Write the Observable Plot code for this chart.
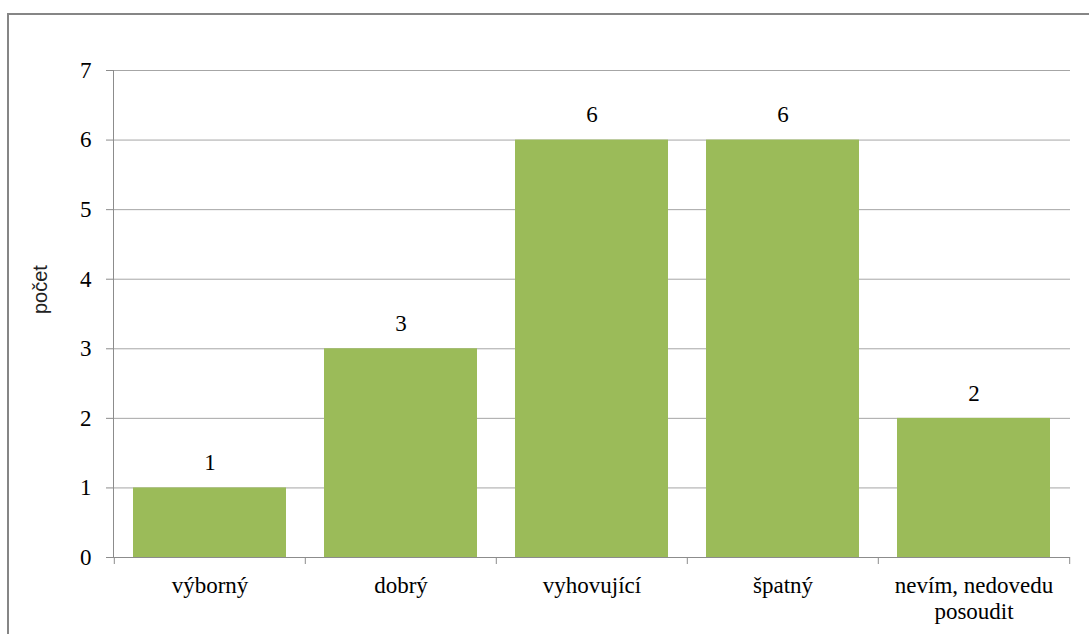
<!DOCTYPE html>
<html>
<head>
<meta charset="utf-8">
<script src="https://cdn.jsdelivr.net/npm/d3@7"></script>
<script src="https://cdn.jsdelivr.net/npm/@observablehq/plot@0.6"></script>
<style>
  html, body { margin: 0; padding: 0; background: #fff; overflow: hidden; }
  #wrap { position: relative; width: 1089px; height: 634px; }
  #border { position: absolute; left: 7px; top: 13px; width: 1200px; height: 800px;
            border: 2px solid #868686; box-sizing: border-box; pointer-events: none; }
  #chart { position: absolute; left: 0; top: 0; }
</style>
</head>
<body>
<div id="wrap"><div id="chart"></div><div id="border"></div></div>
<script>
const categories = ["výborný", "dobrý", "vyhovující", "špatný", "nevím, nedovedu\nposoudit"];
const counts = [1, 3, 6, 6, 2];
const yTicks = [0, 1, 2, 3, 4, 5, 6, 7];
const yLabel = "počet";

const data = categories.map((c, i) => ({category: c, count: counts[i]}));

const W = 1089, H = 634;
const mL = 113, mR = 19, mT = 70, mB = 77;
const bw = (W - mL - mR) / categories.length;
const serif = "Liberation Serif, Tinos, Times New Roman, DejaVu Serif, serif";
const sans = "Liberation Sans, Arial, sans-serif";

const chart = Plot.plot({
  width: W, height: H,
  marginLeft: mL, marginRight: mR, marginTop: mT, marginBottom: mB,
  style: {fontFamily: serif, fontSize: "23px", color: "#000", background: "transparent"},
  x: {type: "band", domain: categories, padding: 0},
  y: {domain: [0, 7]},
  marks: [
    Plot.gridY(yTicks, {stroke: "#a6a6a6", strokeOpacity: 1, strokeWidth: 1}),
    Plot.barY(data, {x: "category", y: "count", fill: "#9BBB59", insetLeft: 19, insetRight: 19}),
    Plot.text(data, {x: "category", y: "count", text: d => String(d.count), dy: -25,
                     fontFamily: serif, fontSize: 23, fill: "#000"}),
    Plot.frame({anchor: "left", stroke: "#8c8c8c"}),
    Plot.ruleY([0], {stroke: "#8c8c8c"}),
    Plot.axisY(yTicks, {tickSize: 7, tickPadding: 15, stroke: "#8c8c8c", label: null, tickFormat: "d",
                        fontFamily: serif, fontSize: 23, fill: "#000"}),
    // category boundary ticks
    Plot.axisX(categories, {tickSize: 7, dx: -bw / 2, tickFormat: () => "", label: null, stroke: "#8c8c8c"}),
    Plot.axisX(categories.slice(-1), {tickSize: 7, dx: bw / 2, tickFormat: () => "", label: null, stroke: "#8c8c8c"}),
    // category labels
    Plot.axisX(categories, {tickSize: 0, tickPadding: 18, label: null, lineHeight: 1.1,
                            fontFamily: serif, fontSize: 23, fill: "#000"}),
    Plot.text([yLabel], {frameAnchor: "left", rotate: -90, dx: -73, text: d => d,
                         fontFamily: sans, fontSize: 20, fill: "#222"})
  ]
});
document.getElementById("chart").append(chart);
</script>
</body>
</html>
